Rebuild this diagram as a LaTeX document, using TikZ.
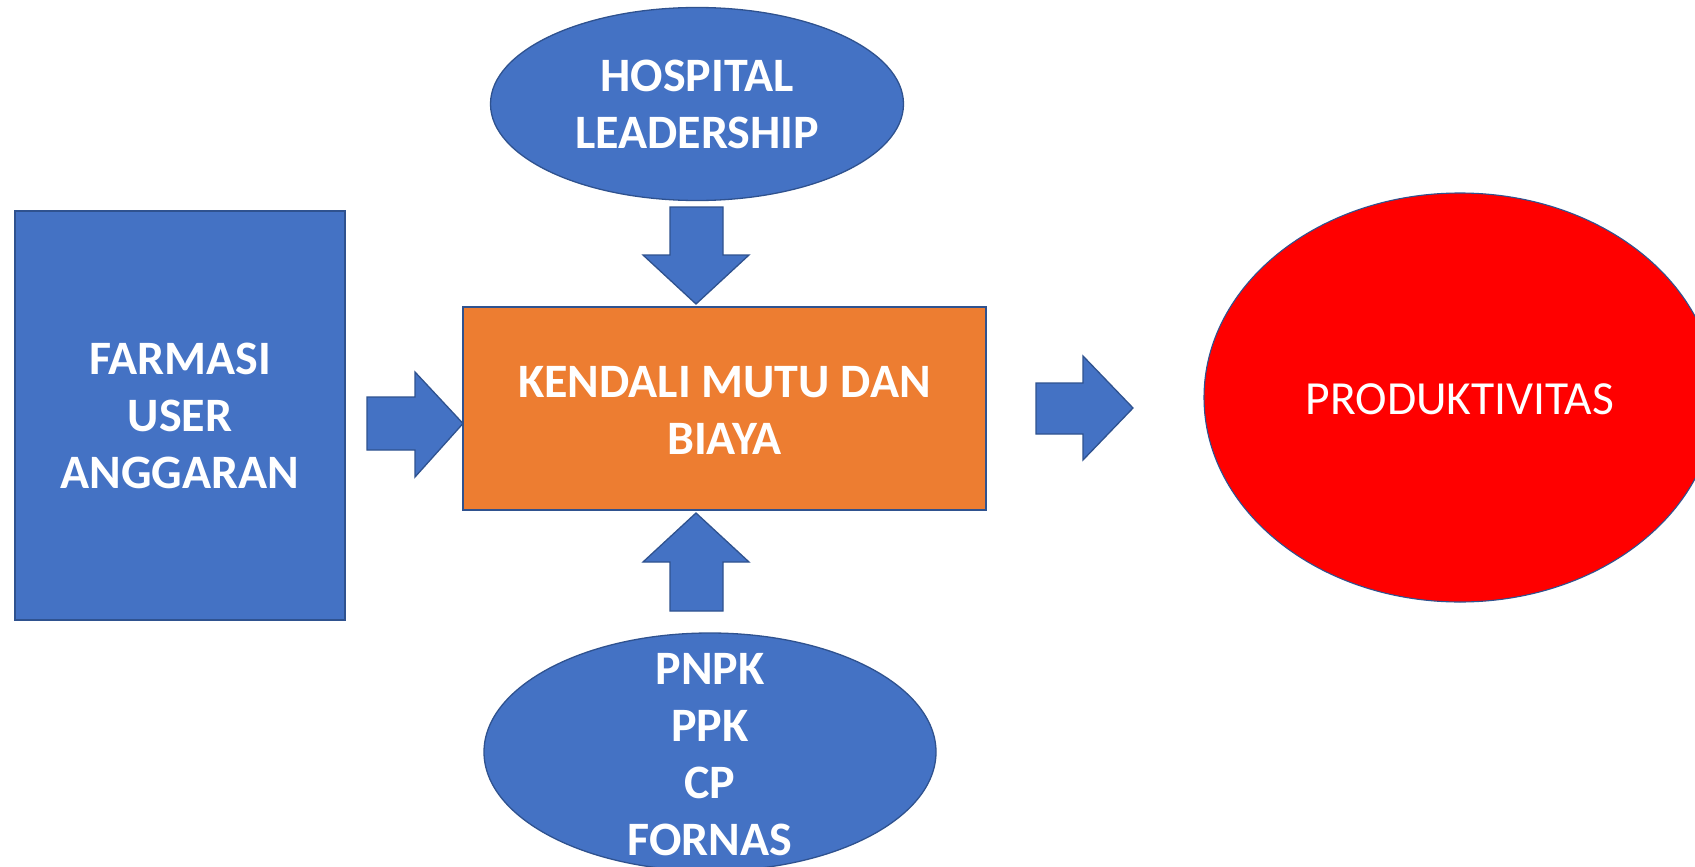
\documentclass[tikz,border=0pt]{standalone}
\usepackage{fontspec}
\setmainfont{Carlito}
\usetikzlibrary{shapes.geometric}
\definecolor{bluefill}{HTML}{4472C4}
\definecolor{blueline}{HTML}{2F528F}
\definecolor{orangefill}{HTML}{ED7D31}
\definecolor{redfill}{HTML}{FF0000}
\begin{document}
\begin{tikzpicture}[x=1pt,y=-1pt,
  shapeline/.style={draw=blueline,line width=1.3pt,inner sep=0pt,outer sep=0pt},
  bluebox/.style={shapeline,fill=bluefill,rectangle},
  blueoval/.style={shapeline,fill=bluefill,ellipse},
  blockarrow/.style={fill=bluefill,draw=blueline,line width=1.3pt,line join=miter},
  boldtxt/.style={text=white,align=center,inner sep=0pt,font=\fontsize{48}{57}\selectfont\bfseries},
  plaintxt/.style={text=white,align=center,inner sep=0pt,font=\fontsize{47.5}{57}\selectfont}]
\useasboundingbox (0,0) rectangle (1695,867);
\fill[white] (0,0) rectangle (1695,867);
% shapes
\node[bluebox,minimum width=330pt,minimum height=409pt] (farm) at (180,415.5) {};
\node[boldtxt] (farmt) at (farm.center) {FARMASI\\USER\\ANGGARAN};
\node[shapeline,fill=orangefill,rectangle,minimum width=523pt,minimum height=203pt] (kend) at (724.5,408.5) {};
\node[boldtxt] (kendt) at ([yshift=-1.5pt]kend.center) {KENDALI MUTU DAN\\BIAYA};
\node[blueoval,minimum width=413pt,minimum height=193pt] (hosp) at (697,104) {};
\node[boldtxt] (hospt) at (hosp.center) {HOSPITAL\\LEADERSHIP};
\node[blueoval,minimum width=452pt,minimum height=238pt] (pnpk) at (710,752) {};
\node[boldtxt] (pnpkt) at ([yshift=-2.5pt]pnpk.center) {PNPK\\PPK\\CP\\FORNAS};
\node[shapeline,line width=1.1pt,fill=redfill,ellipse,minimum width=512pt,minimum height=409pt] (prod) at (1460,397.5) {};
\node[plaintxt] (prodt) at ([yshift=-2pt]prod.center) {PRODUKTIVITAS};
% block arrows
\draw[blockarrow] (367,397) -- (415,397) -- (415,372) -- (463,423.5) -- (415,477) -- (415,450) -- (367,450) -- cycle;
\draw[blockarrow] (670,207) -- (723,207) -- (723,255) -- (749,255) -- (696,304) -- (643,255) -- (670,255) -- cycle;
\draw[blockarrow] (696,513) -- (749,562) -- (723,562) -- (723,611) -- (670,611) -- (670,562) -- (643,562) -- cycle;
\draw[blockarrow] (1036,383) -- (1083,383) -- (1083,356) -- (1133,408) -- (1083,460) -- (1083,434) -- (1036,434) -- cycle;
\end{tikzpicture}
\end{document}
